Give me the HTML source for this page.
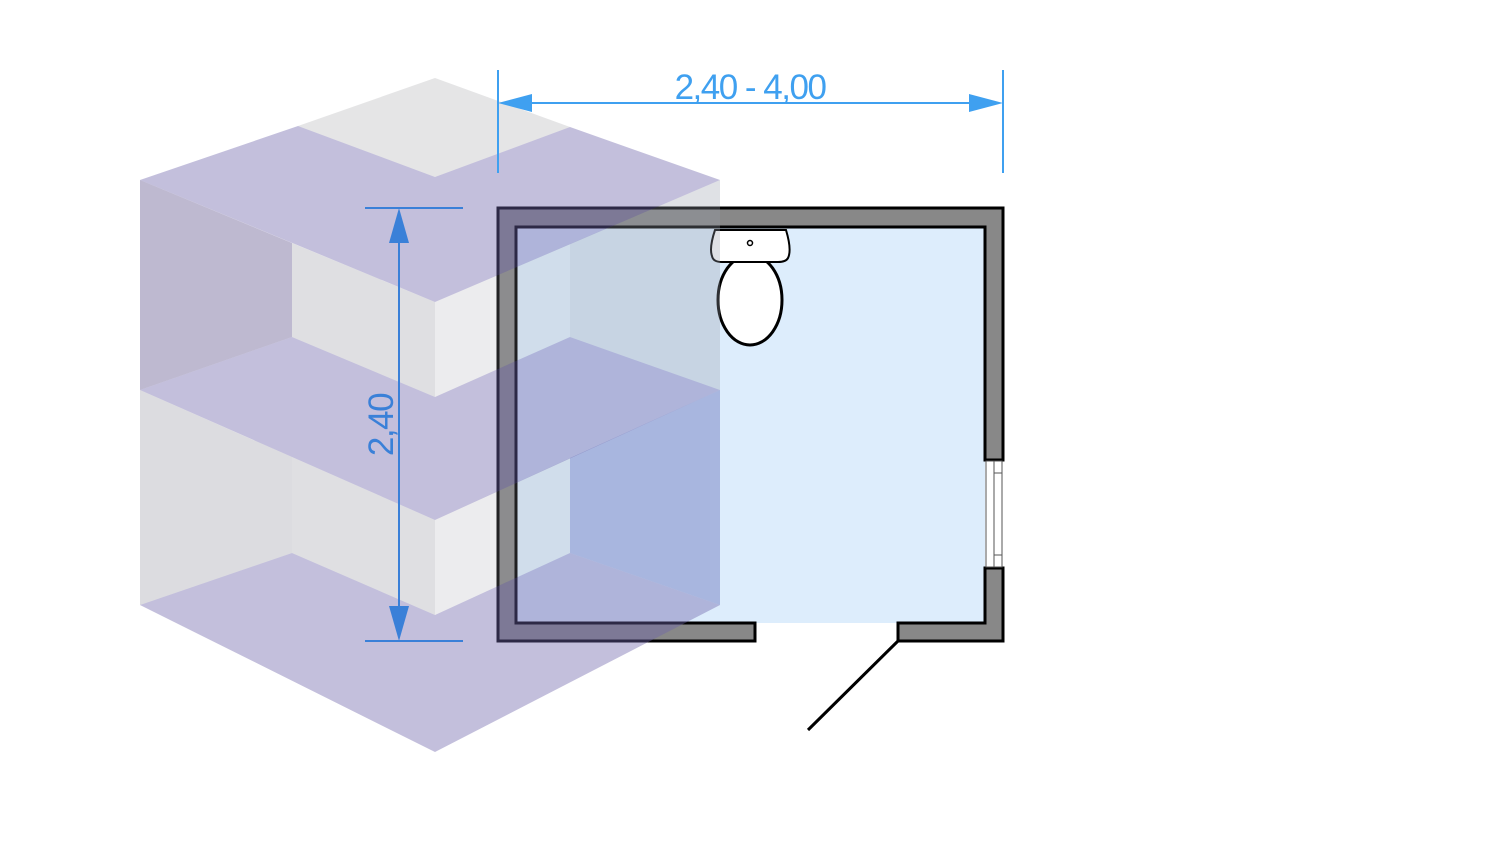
<!DOCTYPE html>
<html><head><meta charset="utf-8"><style>html,body{margin:0;padding:0;background:#fff;}svg{display:block}</style></head>
<body>
<svg width="1500" height="844" viewBox="0 0 1500 844" xmlns="http://www.w3.org/2000/svg">
<rect width="1500" height="844" fill="#fff"/>
<!-- floor plan -->
<rect x="516" y="227" width="469" height="396" fill="#ddedfc"/>
<path d="M498,208 H1003 V460 H985 V227 H516 V623 H755 V641 H498 Z" fill="#888" stroke="#000" stroke-width="3" stroke-linejoin="miter"/>
<path d="M985,568 H1003 V641 H898 V623 H985 Z" fill="#888" stroke="#000" stroke-width="3"/>
<rect x="986" y="461" width="16" height="106" fill="#fff" stroke="#555" stroke-width="1"/>
<line x1="994" y1="461" x2="994" y2="567" stroke="#555" stroke-width="1"/>
<line x1="994" y1="473" x2="1002" y2="473" stroke="#555" stroke-width="1"/>
<line x1="994" y1="555" x2="1002" y2="555" stroke="#555" stroke-width="1"/>
<line x1="898" y1="641" x2="808" y2="730" stroke="#000" stroke-width="3"/>
<!-- toilet -->
<ellipse cx="750" cy="300" rx="32" ry="45" fill="#fff" stroke="#000" stroke-width="3"/>
<path d="M715,230 H786 Q792,250 788,258 Q786,262 778,262 H722 Q713,262 712,256 Q709,248 715,230 Z" fill="#fff" stroke="#000" stroke-width="2"/>
<circle cx="750" cy="243" r="2.5" fill="none" stroke="#000" stroke-width="1.5"/>
<!-- cube -->
<g>
<polygon points="140,180 292,243 292,337 140,390" fill="rgba(110,100,150,0.45)"/>
<polygon points="292,243 435,302 435,397 292,337" fill="rgba(150,150,160,0.3)"/>
<polygon points="435,302 570,244 570,337 435,397" fill="rgba(160,160,170,0.2)"/>
<polygon points="570,244 720,180 720,390 570,337" fill="rgba(150,155,170,0.3)"/>
<polygon points="140,390 292,457 292,553 140,605" fill="rgba(150,150,160,0.33)"/>
<polygon points="292,457 435,520 435,615 292,553" fill="rgba(150,150,160,0.3)"/>
<polygon points="435,520 570,458 570,553 435,615" fill="rgba(160,160,170,0.2)"/>
<polygon points="570,458 720,390 720,605 570,553" fill="rgba(90,100,180,0.4)"/>
<polygon points="435,78 570,127 435,177 298,126" fill="rgba(150,150,155,0.25)"/>
<polygon points="140,180 298,126 435,177 570,127 720,180 435,302" fill="rgba(110,100,170,0.41)"/>
<polygon points="140,390 292,337 435,397 570,337 720,390 435,520" fill="rgba(110,100,170,0.41)"/>
<polygon points="140,605 292,553 435,615 570,553 720,605 435,752" fill="rgba(110,100,170,0.41)"/>
</g>
<!-- horizontal dimension -->
<g stroke="#3fa0f0" stroke-width="2" fill="#3fa0f0">
<line x1="498" y1="70" x2="498" y2="173"/>
<line x1="1003" y1="70" x2="1003" y2="173"/>
<line x1="530" y1="103" x2="970" y2="103"/>
<polygon points="498,103 532,94 532,112" stroke="none"/>
<polygon points="1003,103 969,94 969,112" stroke="none"/>
</g>
<text x="750" y="99" text-anchor="middle" font-family="Liberation Sans, sans-serif" font-size="35" fill="#3fa0f0" letter-spacing="-1.5">2,40 - 4,00</text>
<!-- vertical dimension -->
<g stroke="#3a80d8" stroke-width="2" fill="#3a80d8">
<line x1="365" y1="208" x2="463" y2="208"/>
<line x1="365" y1="641" x2="463" y2="641"/>
<line x1="399" y1="240" x2="399" y2="610"/>
<polygon points="399,208 389,243 409,243" stroke="none"/>
<polygon points="399,641 389,606 409,606" stroke="none"/>
</g>
<text transform="translate(393,425) rotate(-90)" text-anchor="middle" font-family="Liberation Sans, sans-serif" font-size="35" fill="#3a80d8" letter-spacing="-1.5">2,40</text>
</svg>
</body></html>
